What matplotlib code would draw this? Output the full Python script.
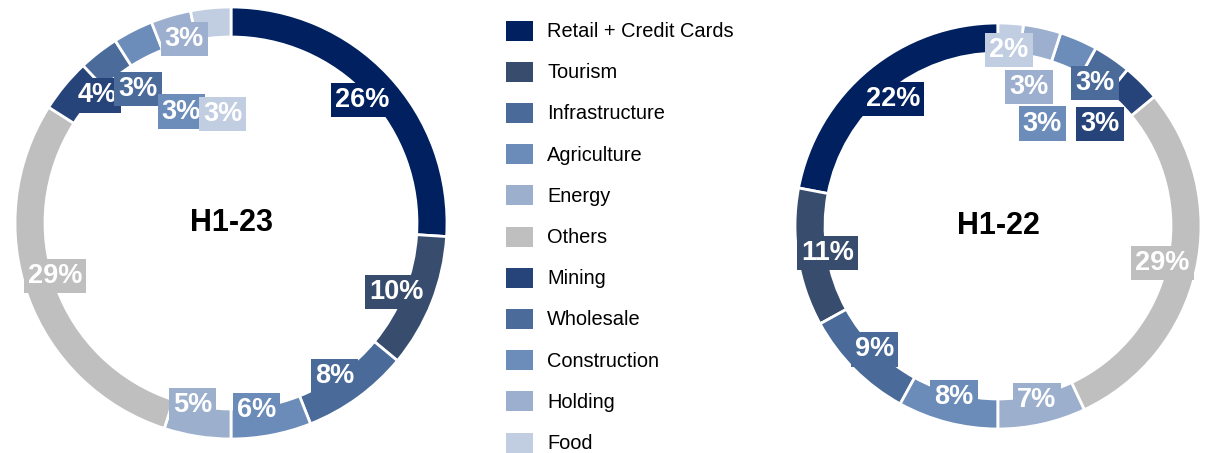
import matplotlib
matplotlib.use('Agg')
import matplotlib.pyplot as plt
import numpy as np

plt.rcParams['font.family'] = ['Liberation Sans', 'DejaVu Sans']

# ── Data ──────────────────────────────────────────────────────────────────────
sectors = ["Retail + Credit Cards", "Tourism", "Infrastructure", "Agriculture",
           "Energy", "Others", "Mining", "Wholesale", "Construction",
           "Holding", "Food"]
h1_23 = [26, 10, 8, 6, 5, 29, 4, 3, 3, 3, 3]
h1_22 = [22, 11, 9, 8, 7, 29, 3, 3, 3, 3, 2]
colors = ["#002060", "#384d6e", "#4a6a9a", "#6b8bb8", "#9cb0ce", "#bfbfbf",
          "#264479", "#4b6b9b", "#6c8cba", "#9dafce", "#c1cde1"]

W, H = 1209, 453


def fig_rect(x, y, w, h):
    # pixel box (top-left origin) -> figure fraction
    return [x / W, 1 - (y + h) / H, w / W, h / H]


def donut(ax, vals, title, ccw, width, lab_r, lab_da):
    ax.pie(vals, colors=colors, startangle=90, counterclock=ccw, radius=1,
           wedgeprops=dict(width=width, edgecolor='white', linewidth=2))
    total = sum(vals)
    cum = np.cumsum([0] + vals)
    sign = 1 if ccw else -1
    for i, v in enumerate(vals):
        mid = 90 + sign * (cum[i] + v / 2) / total * 360 + lab_da[i]
        r = lab_r[i]
        x, y = r * np.cos(np.radians(mid)), r * np.sin(np.radians(mid))
        ax.text(x, y, f"{v}%", ha='center', va='center', color='white',
                fontsize=19.5, fontweight='bold',
                bbox=dict(boxstyle='square,pad=0.15', fc=colors[i], ec='none'))
    ax.text(0, 0, title, ha='center', va='center', fontsize=22,
            fontweight='bold', color='black')
    ax.set_xlim(-1, 1); ax.set_ylim(-1, 1)
    ax.set_aspect('equal')
    ax.axis('off')


fig = plt.figure(figsize=(W / 100, H / 100), dpi=100)

# Left donut (H1-23), clockwise from top
ax1 = fig.add_axes(fig_rect(15, 7, 432, 432))
donut(ax1, h1_23, "H1-23", False, 0.139,
      [0.834, 0.83, 0.856, 0.875, 0.86, 0.85, 0.856, 0.755, 0.565, 0.88, 0.505],
      [0, -1, -2, -3, -3, -3, -4, -3, -3, -2, -1])

# Right donut (H1-22), counter-clockwise from top
ax2 = fig.add_axes(fig_rect(795, 23, 406, 406))
donut(ax2, h1_22, "H1-22", True, 0.148,
      [0.81, 0.85, 0.86, 0.87, 0.88, 0.83, 0.71, 0.85, 0.55, 0.70, 0.87],
      [0] * 11)

# Legend
axl = fig.add_axes([0, 0, 1, 1])
axl.set_xlim(0, W); axl.set_ylim(H, 0)
axl.axis('off')
for i, (name, col) in enumerate(zip(sectors, colors)):
    yc = 30.5 + i * 41.2
    axl.add_patch(plt.Rectangle((506, yc - 10), 27, 20, fc=col, ec='none'))
    axl.text(547, yc + 1, name, ha='left', va='center', fontsize=14.4,
             color='black')

fig.savefig("out.png", dpi=100)
